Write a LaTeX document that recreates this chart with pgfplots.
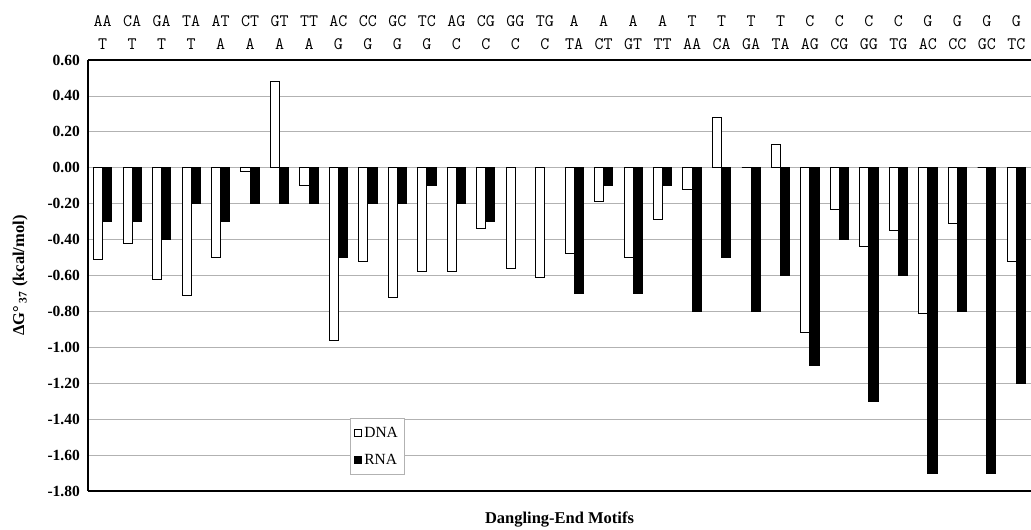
\documentclass[border=0pt]{standalone}
\usepackage{fontspec}
\setmainfont{Liberation Serif}
\usepackage{pgfplots}
\pgfplotsset{compat=1.18}
\begin{document}
\begin{tikzpicture}
\begin{axis}[
  scale only axis,
  width=943pt, height=431pt,
  xmin=-0.5, xmax=31.5, ymin=-1.8, ymax=0.6,
  axis y line*=left,
  axis line style={line width=1.4pt, black},
  xtick={0,...,31},
  xticklabel pos=upper,
  xticklabels={{AA\\T},{CA\\T},{GA\\T},{TA\\T},{AT\\A},{CT\\A},{GT\\A},{TT\\A},{AC\\G},{CC\\G},{GC\\G},{TC\\G},{AG\\C},{CG\\C},{GG\\C},{TG\\C},{A\\TA},{A\\CT},{A\\GT},{A\\TT},{T\\AA},{T\\CA},{T\\GA},{T\\TA},{C\\AG},{C\\CG},{C\\GG},{C\\TG},{G\\AC},{G\\CC},{G\\GC},{G\\TC}},
  xticklabel style={align=center, font=\fontsize{17.5}{23}\selectfont\ttfamily, inner sep=0pt, anchor=south, yshift=10pt},
  ytick={-1.8,-1.6,-1.4,-1.2,-1.0,-0.8,-0.6,-0.4,-0.2,0,0.2,0.4,0.6},
  yticklabel style={font=\fontsize{15.5}{15.5}\selectfont\bfseries, inner sep=0pt, anchor=east, xshift=-8pt,
    /pgf/number format/.cd, fixed, fixed zerofill, precision=2, assume math mode=true},
  major tick length=0pt,
  tick style={draw=none},
  ymajorgrids,
  grid style={gray!60, line width=0.8pt},
  ylabel={\bfseries ΔG°\,\textsubscript{37} (kcal/mol)},
  ylabel style={font=\fontsize{16.5}{16.5}\selectfont, at={(axis description cs:-0.072,0.5)}, anchor=center},
  xlabel={\bfseries Dangling-End Motifs},
  xlabel style={font=\fontsize{16.5}{16.5}\selectfont, at={(axis description cs:0.5,0)}, anchor=center, yshift=-29pt},
  legend style={at={(rel axis cs:0.278,0.037)}, anchor=south west, draw=gray!60, line width=0.6pt,
    font=\fontsize{15.5}{15.5}\selectfont, row sep=11pt, inner xsep=4pt, inner ysep=7pt},
  legend cell align=left,
  legend image code/.code={\draw[#1,/tikz/.cd,line width=0.9pt,yshift=-3.5pt] (0pt,0pt) rectangle (7pt,7pt);},
]
\addplot[ybar, bar width=0.31, bar shift=-0.155, fill=white, draw=black, line width=1pt] coordinates {
(0,-0.51) (1,-0.42) (2,-0.62) (3,-0.71) (4,-0.50) (5,-0.02) (6,0.48) (7,-0.10)
(8,-0.96) (9,-0.52) (10,-0.72) (11,-0.58) (12,-0.58) (13,-0.34) (14,-0.56) (15,-0.61)
(16,-0.48) (17,-0.19) (18,-0.50) (19,-0.29) (20,-0.12) (21,0.28) (22,0.00) (23,0.13)
(24,-0.92) (25,-0.23) (26,-0.44) (27,-0.35) (28,-0.81) (29,-0.31) (30,0.00) (31,-0.52)
};
\addlegendentry{DNA}
\addplot[ybar, bar width=0.31, bar shift=0.155, fill=black, draw=black, line width=1pt] coordinates {
(0,-0.30) (1,-0.30) (2,-0.40) (3,-0.20) (4,-0.30) (5,-0.20) (6,-0.20) (7,-0.20)
(8,-0.50) (9,-0.20) (10,-0.20) (11,-0.10) (12,-0.20) (13,-0.30)
(16,-0.70) (17,-0.10) (18,-0.70) (19,-0.10) (20,-0.80) (21,-0.50) (22,-0.80) (23,-0.60)
(24,-1.10) (25,-0.40) (26,-1.30) (27,-0.60) (28,-1.70) (29,-0.80) (30,-1.70) (31,-1.20)
};
\addlegendentry{RNA}
\coordinate (sw) at (rel axis cs:0,0);
\coordinate (ne) at (rel axis cs:1,1);
\end{axis}
\pgfresetboundingbox
\path ([shift={(-88pt,-39pt)}]sw) rectangle ([shift={(0pt,60pt)}]ne);
\end{tikzpicture}
\end{document}
